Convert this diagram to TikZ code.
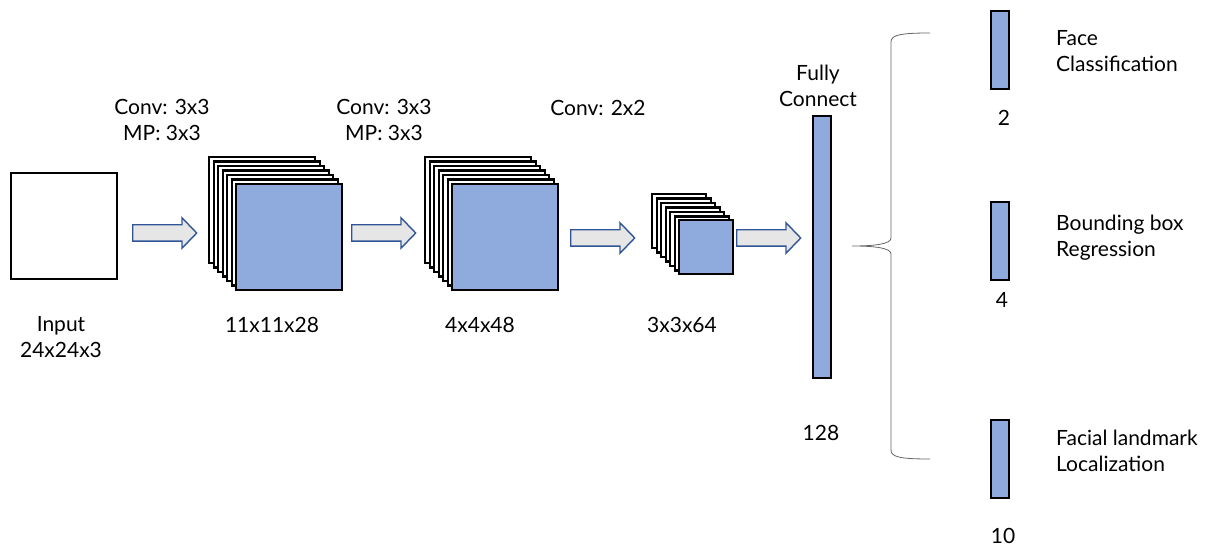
\documentclass[tikz,border=0pt]{standalone}
\usepackage{fontspec}
\setmainfont{Lato}
\usetikzlibrary{shapes.arrows}
\definecolor{fillblue}{HTML}{8FAADC}
\definecolor{arrowfill}{HTML}{E7E6E6}
\definecolor{arrowline}{HTML}{2F5597}
\tikzset{
  lbl/.style={font=\fontsize{21}{26}\selectfont, inner sep=0, align=center},
  lbll/.style={font=\fontsize{21}{26}\selectfont, inner sep=0, align=left, anchor=west},
  fmap/.style={draw=black, line width=2.4pt, fill=white, minimum size=#1, inner sep=0, anchor=north west},
  fmapblue/.style={draw=black, line width=2.4pt, fill=fillblue, minimum size=#1, inner sep=0, anchor=north west},
  bar/.style={draw=black, line width=2.4pt, fill=fillblue, inner sep=0, minimum width=18, anchor=north west},
  fwd/.style={single arrow, draw=arrowline, fill=arrowfill, line width=1.4pt, inner sep=7.5pt, single arrow head extend=7pt, single arrow tip angle=92, minimum height=64, anchor=west},
  brace/.style={draw=black!60, line width=0.8pt},
}
\begin{document}
\begin{tikzpicture}[x=1pt,y=-1pt]
\useasboundingbox (0,0) rectangle (1211,548);
% input
\node[fmap=106] (in) at (10,172) {};
\node[lbl] (inlbl) at (61,337) {Input\\24x24x3};
% arrow 1
\node[fwd] (a1) at (132,233) {};
% stack 1
\foreach \i in {0,...,5} {
  \node[fmap=106] (sa\i) at ({208+4.5*\i},{156+4.5*\i}) {};
}
\node[fmapblue=106] (sa6) at (235,183) {};
\node[lbl] (c1) at (162,120) {Conv: 3x3\\MP: 3x3};
\node[lbl] (d1) at (272,325) {11x11x28};
% arrow 2
\node[fwd] (a2) at (351,233) {};
% stack 2
\foreach \i in {0,...,5} {
  \node[fmap=106] (sb\i) at ({424+4.5*\i},{156+4.5*\i}) {};
}
\node[fmapblue=106] (sb6) at (451,183) {};
\node[lbl] (c2) at (384,120) {Conv: 3x3\\MP: 3x3};
\node[lbl] (d2) at (480,325) {4x4x48};
% arrow 3
\node[fwd] (a3) at (570,238) {};
% stack 3
\foreach \i in {0,...,5} {
  \node[fmap=54] (sc\i) at ({651+4.5*\i},{193+4.5*\i}) {};
}
\node[fmapblue=54] (sc6) at (678,219) {};
\node[lbl] (c3) at (598,108) {Conv: 2x2};
\node[lbl] (d3) at (682,325) {3x3x64};
% arrow 4
\node[fwd] (a4) at (736,238) {};
% fully connected
\node[bar, minimum height=262] (fc) at (812,115) {};
\node[lbl] (fcl) at (818,86) {Fully\\Connect};
\node[lbl] (fcn) at (821,433) {128};
% brace
\coordinate (bt) at (930,33);
\coordinate (bm) at (852,246);
\coordinate (bb) at (930,459);
\draw[brace] (bt) .. controls (900,33) and (891,35) .. (891,42) -- (891,238)
  .. controls (891,244) and (875,246) .. (bm)
  .. controls (875,246) and (891,248) .. (891,254) -- (891,450)
  .. controls (891,457) and (900,459) .. (bb);
% outputs
\node[bar, minimum height=78] (o1) at (990,10) {};
\node[bar, minimum height=78] (o2) at (990,201) {};
\node[bar, minimum height=78] (o3) at (990,419) {};
\node[lbl] (n1) at (1004,118) {2};
\node[lbl] (n2) at (1002,300) {4};
\node[lbl] (n3) at (1003,536) {10};
\node[lbll] (t1) at (1056,51) {Face\\Classification};
\node[lbll] (t2) at (1056,238) {Bounding box\\Regression};
\node[lbll] (t3) at (1056,451) {Facial landmark\\Localization};
\end{tikzpicture}
\end{document}
